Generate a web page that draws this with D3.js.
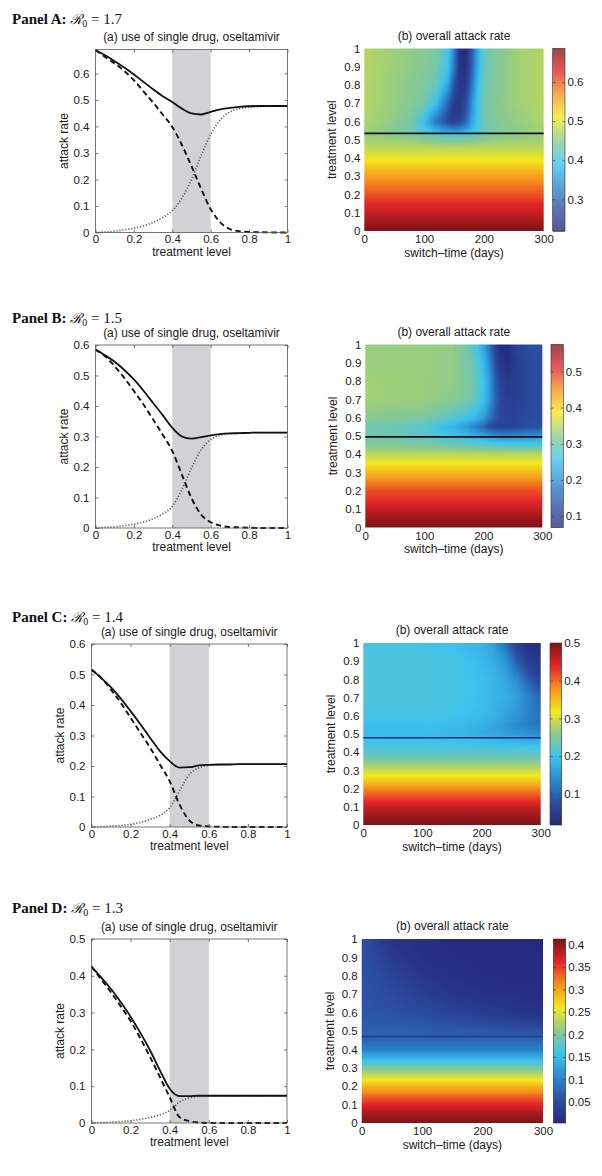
<!DOCTYPE html>
<html><head><meta charset="utf-8">
<script src="https://cdn.jsdelivr.net/npm/d3@7"></script>
<style>
body{margin:0;background:#fff}
svg{display:block}
</style>
</head><body>
<svg id="fig" width="602" height="1176"></svg>
<script>
// ---------------- data ----------------
const panelNames = ["A", "B", "C", "D"];
const r0Values = ["1.7", "1.5", "1.4", "1.3"];
const leftTitle = "(a) use of single drug, oseltamivir";
const rightTitle = "(b) overall attack rate";
const bandRange = [0.4, 0.6];

const treatmentLevels = [0,0.05,0.1,0.15,0.2,0.25,0.3,0.35,0.4,0.45,0.5,0.55,0.6,0.65,0.7,0.75,0.8,0.85,0.9,0.95,1];

const overallA   = [0.688,0.668,0.646,0.622,0.596,0.568,0.540,0.514,0.492,0.467,0.449,0.445,0.455,0.464,0.470,0.474,0.476,0.477,0.477,0.477,0.477];
const sensitiveA = [0.688,0.662,0.637,0.609,0.574,0.532,0.490,0.445,0.398,0.330,0.250,0.165,0.088,0.038,0.013,0.005,0.002,0.001,0.0005,0,0];
const resistantA = [0,0.002,0.005,0.010,0.016,0.025,0.038,0.056,0.082,0.130,0.200,0.290,0.370,0.425,0.455,0.467,0.473,0.475,0.476,0.477,0.477];

const overallB   = [0.585,0.566,0.545,0.518,0.487,0.450,0.410,0.370,0.328,0.300,0.293,0.298,0.304,0.308,0.310,0.311,0.312,0.313,0.313,0.313,0.313];
const sensitiveB = [0.585,0.563,0.530,0.492,0.449,0.405,0.356,0.306,0.252,0.175,0.098,0.044,0.019,0.008,0.003,0.002,0.001,0,0,0,0];
const resistantB = [0,0.002,0.004,0.008,0.013,0.020,0.030,0.046,0.071,0.126,0.197,0.257,0.290,0.304,0.309,0.311,0.312,0.313,0.313,0.313,0.313];

const overallC   = [0.516,0.488,0.458,0.421,0.380,0.337,0.292,0.249,0.216,0.195,0.196,0.202,0.204,0.205,0.205,0.206,0.206,0.206,0.206,0.206,0.206];
const sensitiveC = [0.516,0.489,0.450,0.407,0.358,0.309,0.260,0.205,0.150,0.074,0.022,0.005,0.002,0.001,0,0,0,0,0,0,0];
const resistantC = [0,0.001,0.003,0.005,0.009,0.015,0.025,0.038,0.063,0.118,0.172,0.194,0.202,0.204,0.205,0.206,0.206,0.206,0.206,0.206,0.206];

const overallD   = [0.425,0.395,0.364,0.328,0.289,0.245,0.197,0.143,0.093,0.073,0.073,0.074,0.074,0.074,0.074,0.074,0.074,0.074,0.074,0.074,0.074];
const sensitiveD = [0.425,0.390,0.355,0.317,0.277,0.230,0.179,0.125,0.070,0.016,0.005,0.001,0,0,0,0,0,0,0,0,0];
const resistantD = [0,0.001,0.002,0.004,0.006,0.010,0.015,0.022,0.034,0.057,0.068,0.073,0.074,0.074,0.074,0.074,0.074,0.074,0.074,0.074,0.074];

const leftYMax = [0.69, 0.6, 0.6, 0.5];
const leftXTicks = [0,0.2,0.4,0.6,0.8,1];
const leftYTicksA = [0,0.1,0.2,0.3,0.4,0.5,0.6];
const leftYTicksB = [0,0.1,0.2,0.3,0.4,0.5,0.6];
const leftYTicksC = [0,0.1,0.2,0.3,0.4,0.5,0.6];
const leftYTicksD = [0,0.1,0.2,0.3,0.4,0.5];

// heat maps: overall attack rate vs switch-time (columns) and treatment level (rows)
const heatDaysA = [0,40,80,100,120,140,150,160,170,180,190,200,220,260,300];
const heatLevelsA = [0,0.05,0.1,0.15,0.2,0.25,0.3,0.35,0.4,0.45,0.5,0.53,0.55,0.6,0.65,0.7,0.8,0.9,1];
const heatValuesA = [
 [0.686,0.686,0.686,0.686,0.686,0.686,0.686,0.686,0.686,0.686,0.686,0.686,0.686,0.686,0.686],
 [0.666,0.666,0.666,0.666,0.666,0.666,0.666,0.666,0.666,0.666,0.666,0.666,0.666,0.666,0.666],
 [0.645,0.645,0.645,0.645,0.645,0.645,0.645,0.645,0.645,0.645,0.645,0.645,0.645,0.645,0.645],
 [0.625,0.625,0.625,0.625,0.625,0.625,0.625,0.625,0.625,0.625,0.625,0.625,0.625,0.625,0.625],
 [0.603,0.603,0.603,0.603,0.603,0.603,0.603,0.603,0.603,0.603,0.603,0.603,0.603,0.603,0.603],
 [0.582,0.582,0.582,0.582,0.582,0.582,0.582,0.582,0.582,0.582,0.582,0.582,0.582,0.582,0.582],
 [0.560,0.560,0.560,0.560,0.560,0.560,0.560,0.560,0.560,0.560,0.560,0.560,0.560,0.560,0.560],
 [0.532,0.532,0.532,0.532,0.532,0.532,0.532,0.532,0.532,0.532,0.532,0.532,0.532,0.532,0.532],
 [0.505,0.505,0.505,0.505,0.505,0.505,0.505,0.505,0.505,0.505,0.505,0.505,0.505,0.505,0.505],
 [0.482,0.482,0.482,0.482,0.482,0.482,0.482,0.482,0.482,0.482,0.482,0.482,0.482,0.482,0.482],
 [0.465,0.463,0.458,0.452,0.447,0.443,0.442,0.442,0.443,0.445,0.448,0.452,0.458,0.463,0.465],
 [0.460,0.455,0.445,0.430,0.418,0.410,0.408,0.408,0.410,0.415,0.425,0.435,0.447,0.455,0.460],
 [0.465,0.452,0.430,0.405,0.375,0.350,0.345,0.350,0.365,0.385,0.405,0.425,0.440,0.455,0.465],
 [0.470,0.458,0.435,0.390,0.320,0.265,0.255,0.265,0.305,0.365,0.405,0.430,0.445,0.460,0.470],
 [0.472,0.460,0.442,0.415,0.355,0.275,0.245,0.245,0.280,0.350,0.400,0.430,0.448,0.462,0.472],
 [0.475,0.462,0.448,0.432,0.395,0.300,0.250,0.240,0.270,0.345,0.400,0.432,0.450,0.465,0.475],
 [0.475,0.462,0.450,0.442,0.425,0.365,0.280,0.235,0.245,0.320,0.390,0.428,0.445,0.465,0.475],
 [0.475,0.465,0.455,0.448,0.437,0.395,0.320,0.232,0.228,0.295,0.375,0.422,0.445,0.465,0.475],
 [0.475,0.465,0.455,0.450,0.440,0.400,0.330,0.230,0.225,0.290,0.370,0.420,0.445,0.465,0.475]
];

const heatDaysB = [0,50,100,150,175,190,200,210,220,230,240,250,260,280,300];
const heatLevelsB = [0,0.05,0.1,0.15,0.2,0.25,0.3,0.35,0.4,0.45,0.5,0.55,0.6,0.7,0.8,0.9,1];
const heatValuesB = [
 [0.574,0.574,0.574,0.574,0.574,0.574,0.574,0.574,0.574,0.574,0.574,0.574,0.574,0.574,0.574],
 [0.556,0.556,0.556,0.556,0.556,0.556,0.556,0.556,0.556,0.556,0.556,0.556,0.556,0.556,0.556],
 [0.528,0.528,0.528,0.528,0.528,0.528,0.528,0.528,0.528,0.528,0.528,0.528,0.528,0.528,0.528],
 [0.507,0.507,0.507,0.507,0.507,0.507,0.507,0.507,0.507,0.507,0.507,0.507,0.507,0.507,0.507],
 [0.487,0.487,0.487,0.487,0.487,0.487,0.487,0.487,0.487,0.487,0.487,0.487,0.487,0.487,0.487],
 [0.455,0.455,0.455,0.455,0.455,0.455,0.455,0.455,0.455,0.455,0.455,0.455,0.455,0.455,0.455],
 [0.420,0.420,0.420,0.420,0.420,0.420,0.420,0.420,0.420,0.420,0.420,0.420,0.420,0.420,0.420],
 [0.385,0.385,0.385,0.385,0.385,0.385,0.385,0.385,0.385,0.385,0.385,0.385,0.385,0.385,0.385],
 [0.350,0.350,0.350,0.350,0.350,0.350,0.350,0.350,0.350,0.350,0.350,0.350,0.350,0.350,0.350],
 [0.315,0.315,0.310,0.300,0.295,0.290,0.288,0.285,0.283,0.280,0.278,0.277,0.276,0.275,0.275],
 [0.300,0.295,0.285,0.260,0.245,0.235,0.225,0.215,0.205,0.200,0.198,0.198,0.200,0.205,0.210],
 [0.300,0.295,0.280,0.240,0.210,0.180,0.160,0.130,0.115,0.110,0.110,0.115,0.120,0.130,0.135],
 [0.320,0.315,0.310,0.280,0.260,0.240,0.220,0.180,0.140,0.120,0.110,0.110,0.115,0.125,0.130],
 [0.335,0.333,0.330,0.320,0.305,0.280,0.255,0.220,0.160,0.120,0.105,0.105,0.110,0.120,0.130],
 [0.335,0.333,0.330,0.325,0.310,0.285,0.260,0.220,0.150,0.110,0.095,0.100,0.110,0.125,0.130],
 [0.330,0.330,0.330,0.325,0.305,0.280,0.250,0.200,0.130,0.090,0.080,0.090,0.110,0.125,0.130],
 [0.330,0.330,0.330,0.325,0.300,0.260,0.220,0.170,0.110,0.075,0.075,0.100,0.120,0.130,0.135]
];

const heatDaysC = [0,50,100,150,200,220,240,260,280,300];
const heatLevelsC = [0,0.05,0.1,0.15,0.2,0.25,0.3,0.35,0.4,0.45,0.5,0.55,0.6,0.7,0.8,0.9,1];
const heatValuesC = [
 [0.500,0.500,0.500,0.500,0.500,0.500,0.500,0.500,0.500,0.500],
 [0.482,0.482,0.482,0.482,0.482,0.482,0.482,0.482,0.482,0.482],
 [0.458,0.458,0.458,0.458,0.458,0.458,0.458,0.458,0.458,0.458],
 [0.422,0.422,0.422,0.422,0.422,0.422,0.422,0.422,0.422,0.422],
 [0.382,0.382,0.382,0.382,0.382,0.382,0.382,0.382,0.382,0.382],
 [0.337,0.337,0.337,0.337,0.337,0.337,0.337,0.337,0.337,0.337],
 [0.294,0.294,0.294,0.294,0.294,0.294,0.294,0.294,0.294,0.294],
 [0.252,0.252,0.252,0.252,0.252,0.252,0.252,0.252,0.252,0.252],
 [0.220,0.220,0.220,0.220,0.220,0.220,0.220,0.220,0.220,0.220],
 [0.200,0.200,0.200,0.198,0.195,0.193,0.190,0.188,0.186,0.185],
 [0.190,0.190,0.190,0.185,0.175,0.170,0.160,0.152,0.145,0.140],
 [0.195,0.195,0.195,0.190,0.180,0.170,0.155,0.140,0.125,0.110],
 [0.205,0.205,0.205,0.200,0.190,0.180,0.165,0.150,0.130,0.110],
 [0.210,0.210,0.210,0.205,0.195,0.185,0.175,0.160,0.130,0.100],
 [0.210,0.210,0.210,0.205,0.195,0.185,0.170,0.140,0.090,0.060],
 [0.210,0.210,0.210,0.205,0.190,0.175,0.150,0.090,0.050,0.035],
 [0.205,0.205,0.200,0.195,0.180,0.160,0.110,0.050,0.030,0.020]
];

const heatDaysD = [0,25,50,100,150,200,250,300];
const heatLevelsD = [0,0.05,0.1,0.15,0.2,0.25,0.3,0.35,0.4,0.45,0.5,0.55,0.6,0.7,0.8,0.9,1];
const heatValuesD = [
 [0.412,0.412,0.412,0.412,0.412,0.412,0.412,0.412],
 [0.392,0.392,0.392,0.392,0.392,0.392,0.392,0.392],
 [0.362,0.362,0.362,0.362,0.362,0.362,0.362,0.362],
 [0.327,0.327,0.327,0.327,0.327,0.327,0.327,0.327],
 [0.289,0.289,0.289,0.289,0.289,0.289,0.289,0.289],
 [0.243,0.243,0.243,0.243,0.243,0.243,0.243,0.243],
 [0.197,0.197,0.197,0.197,0.197,0.197,0.197,0.197],
 [0.143,0.143,0.143,0.143,0.143,0.143,0.143,0.143],
 [0.095,0.095,0.095,0.095,0.095,0.095,0.095,0.095],
 [0.074,0.074,0.074,0.074,0.074,0.074,0.074,0.074],
 [0.068,0.068,0.067,0.066,0.064,0.061,0.058,0.055],
 [0.064,0.063,0.062,0.058,0.052,0.045,0.038,0.032],
 [0.060,0.058,0.056,0.048,0.038,0.028,0.020,0.016],
 [0.058,0.054,0.048,0.032,0.020,0.014,0.011,0.009],
 [0.057,0.050,0.038,0.020,0.013,0.009,0.007,0.006],
 [0.056,0.042,0.026,0.013,0.009,0.006,0.005,0.004],
 [0.055,0.035,0.018,0.010,0.007,0.005,0.004,0.003]
];

const colorRangeA = [0.219, 0.686];
const colorRangeB = [0.069, 0.574];
const colorRangeC = [0.017, 0.500];
const colorRangeD = [0.003, 0.412];
const colorTicksA = [0.3,0.4,0.5,0.6];
const colorTicksB = [0.1,0.2,0.3,0.4,0.5];
const colorTicksC = [0.1,0.2,0.3,0.4,0.5];
const colorTicksD = [0.05,0.1,0.15,0.2,0.25,0.3,0.35,0.4];
const criticalLevels = [0.535, 0.495, 0.48, 0.47];
const criticalColors = ["#111111", "#111111", "#1c2d78", "#2a3784"];
const heatXTicks = [0,100,200,300];
const heatYTicks = [0,0.1,0.2,0.3,0.4,0.5,0.6,0.7,0.8,0.9,1];
const switchDomain = [0, 300];

// printed "jet" colormap
const jetStops = [0,0.125,0.25,0.375,0.5,0.625,0.75,0.875,1];
const jetColors = ["#252a7d","#2c4fa2","#2a8bd0","#3ec3ee","#8cca8e","#f4e91c","#f6921e","#e42428","#7d1416"];

// ---------------- layout ----------------
const leftBoxes = [
  {x0:95.5, x1:287.5, yt:49.5, yb:232.5},
  {x0:95.5, x1:287.5, yt:345, yb:528},
  {x0:91.5, x1:287, yt:644, yb:827},
  {x0:91.5, x1:287, yt:939, yb:1123}
];
const heatBoxes = [
  {x0:364.3, x1:543.7, yt:48.5, yb:231, c0:552.7, c1:565},
  {x0:365.3, x1:542.3, yt:344.5, yb:527.5, c0:551, c1:563.3},
  {x0:363.3, x1:540.7, yt:643, yb:825, c0:550, c1:561.7},
  {x0:361.7, x1:543, yt:939, yb:1123, c0:553.3, c1:565.7}
];
const panelBaselines = [24, 323, 621.5, 913];

const FONT = '"Liberation Sans", Arial, Helvetica, sans-serif';
const TICK_FS = 11.5, LABEL_FS = 12, TITLE_FS = 12;

const svg = d3.select("#fig");
const fmt = d3.format("~g");

const series = [
  [overallA, sensitiveA, resistantA, leftYTicksA],
  [overallB, sensitiveB, resistantB, leftYTicksB],
  [overallC, sensitiveC, resistantC, leftYTicksC],
  [overallD, sensitiveD, resistantD, leftYTicksD]
];
const heats = [
  [heatDaysA, heatLevelsA, heatValuesA, colorRangeA, colorTicksA],
  [heatDaysB, heatLevelsB, heatValuesB, colorRangeB, colorTicksB],
  [heatDaysC, heatLevelsC, heatValuesC, colorRangeC, colorTicksC],
  [heatDaysD, heatLevelsD, heatValuesD, colorRangeD, colorTicksD]
];

function styleAxis(g, showText) {
  g.select(".domain").remove();
  g.selectAll("line").attr("stroke", "#444").attr("stroke-width", 0.7);
  g.selectAll("text").attr("font-family", FONT).attr("font-size", TICK_FS).attr("fill", "#1a1a1a");
  if (!showText) g.selectAll("text").remove();
  g.attr("font-family", null).attr("font-size", null);
}

function drawLeft(p) {
  const b = leftBoxes[p];
  const [overall, sens, res, yTicks] = series[p];
  const x = d3.scaleLinear().domain([0, 1]).range([b.x0, b.x1]);
  const y = d3.scaleLinear().domain([0, leftYMax[p]]).range([b.yb, b.yt]);
  const g = svg.append("g");

  g.append("rect").attr("x", b.x0).attr("y", b.yt).attr("width", b.x1 - b.x0).attr("height", b.yb - b.yt).attr("fill", "#fff");
  g.append("rect").attr("x", x(bandRange[0])).attr("width", x(bandRange[1]) - x(bandRange[0]))
    .attr("y", y(leftYMax[p])).attr("height", y(0) - y(leftYMax[p])).attr("fill", "#d1d2d4");

  const line = d3.line().x((d, i) => x(treatmentLevels[i])).y(d => y(d)).curve(d3.curveMonotoneX);
  g.append("path").attr("d", line(res)).attr("fill", "none").attr("stroke", "#555")
    .attr("stroke-width", 1.7).attr("stroke-dasharray", "1.1,1.9");
  g.append("path").attr("d", line(sens)).attr("fill", "none").attr("stroke", "#111")
    .attr("stroke-width", 1.9).attr("stroke-dasharray", "5.5,3.5");
  g.append("path").attr("d", line(overall)).attr("fill", "none").attr("stroke", "#111")
    .attr("stroke-width", 1.8);

  // axes
  g.append("g").attr("transform", `translate(0,${b.yb})`)
    .call(d3.axisBottom(x).tickValues(leftXTicks).tickSize(-3).tickPadding(2.6).tickFormat(fmt))
    .call(a => styleAxis(a, true));
  g.append("g").attr("transform", `translate(0,${b.yt})`)
    .call(d3.axisTop(x).tickValues(leftXTicks).tickSize(-3))
    .call(a => styleAxis(a, false));
  g.append("g").attr("transform", `translate(${b.x0},0)`)
    .call(d3.axisLeft(y).tickValues(yTicks).tickSize(-3).tickPadding(6).tickFormat(fmt))
    .call(a => styleAxis(a, true));
  g.append("g").attr("transform", `translate(${b.x1},0)`)
    .call(d3.axisRight(y).tickValues(yTicks).tickSize(-3))
    .call(a => styleAxis(a, false));

  g.append("rect").attr("x", b.x0).attr("y", b.yt).attr("width", b.x1 - b.x0).attr("height", b.yb - b.yt)
    .attr("fill", "none").attr("stroke", "#555").attr("stroke-width", 0.8);

  g.append("text").attr("x", (b.x0 + b.x1) / 2).attr("y", b.yt - 8.5).attr("text-anchor", "middle")
    .attr("font-family", FONT).attr("font-size", TITLE_FS).attr("fill", "#1a1a1a").text(leftTitle);
  g.append("text").attr("x", (b.x0 + b.x1) / 2).attr("y", b.yb + 23).attr("text-anchor", "middle")
    .attr("font-family", FONT).attr("font-size", LABEL_FS).attr("fill", "#1a1a1a").text("treatment level");
  g.append("text").attr("transform", `translate(${b.x0 - 28},${(b.yt + b.yb) / 2}) rotate(-90)`)
    .attr("text-anchor", "middle").attr("font-family", FONT).attr("font-size", LABEL_FS).attr("fill", "#1a1a1a")
    .text("attack rate");
}

function bilinear(xs, ys, vals, xv, yv) {
  const i = Math.max(0, Math.min(xs.length - 2, d3.bisectRight(xs, xv) - 1));
  const j = Math.max(0, Math.min(ys.length - 2, d3.bisectRight(ys, yv) - 1));
  const tx = Math.max(0, Math.min(1, (xv - xs[i]) / (xs[i + 1] - xs[i])));
  const ty = Math.max(0, Math.min(1, (yv - ys[j]) / (ys[j + 1] - ys[j])));
  const a = vals[j][i] * (1 - tx) + vals[j][i + 1] * tx;
  const c = vals[j + 1][i] * (1 - tx) + vals[j + 1][i + 1] * tx;
  return a * (1 - ty) + c * ty;
}

function drawHeat(p) {
  const b = heatBoxes[p];
  const [days, levels, vals, crange, cticks] = heats[p];
  const x = d3.scaleLinear().domain(switchDomain).range([b.x0, b.x1]);
  const y = d3.scaleLinear().domain([0, 1]).range([b.yb, b.yt]);
  const color = d3.scaleLinear()
    .domain(jetStops.map(s => crange[0] + s * (crange[1] - crange[0])))
    .range(jetColors).interpolate(d3.interpolateRgb).clamp(true);
  const g = svg.append("g");

  // raster image of the grid
  const W = Math.round((b.x1 - b.x0) * 2), H = Math.round((b.yb - b.yt) * 2);
  const cv = document.createElement("canvas");
  cv.width = W; cv.height = H;
  const ctx = cv.getContext("2d");
  const img = ctx.createImageData(W, H);
  const cache = new Map();
  for (let j = 0; j < H; j++) {
    const lev = y.invert(b.yt + (j + 0.5) / 2);
    for (let i = 0; i < W; i++) {
      const day = x.invert(b.x0 + (i + 0.5) / 2);
      const v = bilinear(days, levels, vals, day, lev);
      const key = Math.round(v * 4000);
      let c = cache.get(key);
      if (!c) { c = d3.rgb(color(key / 4000)); cache.set(key, c); }
      const k = (j * W + i) * 4;
      img.data[k] = c.r; img.data[k + 1] = c.g; img.data[k + 2] = c.b; img.data[k + 3] = 255;
    }
  }
  ctx.putImageData(img, 0, 0);
  g.append("image").attr("href", cv.toDataURL()).attr("x", b.x0).attr("y", b.yt)
    .attr("width", b.x1 - b.x0).attr("height", b.yb - b.yt).attr("preserveAspectRatio", "none");

  // critical treatment level line
  g.append("line").attr("x1", b.x0).attr("x2", b.x1)
    .attr("y1", y(criticalLevels[p])).attr("y2", y(criticalLevels[p]))
    .attr("stroke", criticalColors[p]).attr("stroke-width", p < 2 ? 1.6 : 1.5);

  g.append("g").attr("transform", `translate(0,${b.yb})`)
    .call(d3.axisBottom(x).tickValues(heatXTicks).tickSize(0).tickPadding(4).tickFormat(fmt))
    .call(a => styleAxis(a, true));
  g.append("g").attr("transform", `translate(${b.x0},0)`)
    .call(d3.axisLeft(y).tickValues(heatYTicks).tickSize(0).tickPadding(4).tickFormat(fmt))
    .call(a => styleAxis(a, true));

  // colour bar
  const cb = d3.scaleLinear().domain(crange).range([b.yb, b.yt]);
  const nStrips = Math.round(b.yb - b.yt);
  const strips = d3.range(nStrips);
  g.append("g").selectAll("rect").data(strips).join("rect")
    .attr("x", b.c0).attr("width", b.c1 - b.c0)
    .attr("y", d => b.yt + d).attr("height", 1.05)
    .attr("fill", d => color(cb.invert(b.yt + d + 0.5)));
  g.append("rect").attr("x", b.c0).attr("y", b.yt).attr("width", b.c1 - b.c0).attr("height", b.yb - b.yt)
    .attr("fill", "none").attr("stroke", "#333").attr("stroke-width", 0.6);
  g.append("g").attr("transform", `translate(${b.c1},0)`)
    .call(d3.axisRight(cb).tickValues(cticks).tickSize(-2.5).tickPadding(2.5).tickFormat(fmt))
    .call(a => styleAxis(a, true));
  g.append("g").attr("transform", `translate(${b.c0},0)`)
    .call(d3.axisLeft(cb).tickValues(cticks).tickSize(-2.5))
    .call(a => styleAxis(a, false));

  g.append("text").attr("x", (b.x0 + b.x1) / 2).attr("y", b.yt - 9).attr("text-anchor", "middle")
    .attr("font-family", FONT).attr("font-size", TITLE_FS).attr("fill", "#1a1a1a").text(rightTitle);
  g.append("text").attr("x", (b.x0 + b.x1) / 2).attr("y", b.yb + 25.5).attr("text-anchor", "middle")
    .attr("font-family", FONT).attr("font-size", LABEL_FS).attr("fill", "#1a1a1a").text("switch\u2013time (days)");
  g.append("text").attr("transform", `translate(${b.x0 - 28},${(b.yt + b.yb) / 2}) rotate(-90)`)
    .attr("text-anchor", "middle").attr("font-family", FONT).attr("font-size", LABEL_FS).attr("fill", "#1a1a1a")
    .text("treatment level");
}

function drawPanelLabel(p) {
  const t = svg.append("text").attr("x", 12).attr("y", panelBaselines[p]).attr("fill", "#111")
    .attr("font-size", 15).attr("font-family", '"Liberation Serif", "Times New Roman", serif');
  t.append("tspan").attr("font-weight", "bold").text(`Panel ${panelNames[p]}: `);
  t.append("tspan").attr("font-family", '"DejaVu Serif", serif').attr("font-style", "italic").attr("font-size", 14).text("\u211B");
  t.append("tspan").attr("font-size", 10).attr("dy", 3).text("0");
  t.append("tspan").attr("dy", -3).text(" = " + r0Values[p]);
}

for (let p = 0; p < 4; p++) {
  drawPanelLabel(p);
  drawLeft(p);
  drawHeat(p);
}
</script>
</body></html>
